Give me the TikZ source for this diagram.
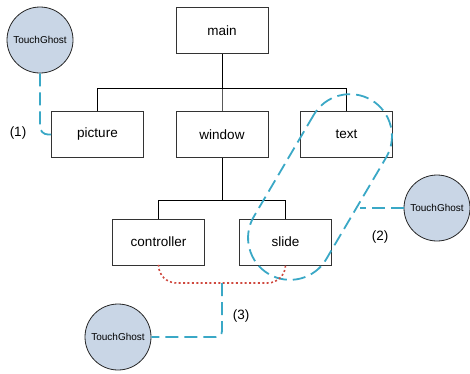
\documentclass[tikz,border=0pt]{standalone}
\usepackage{fontspec}
\setmainfont{Liberation Sans}
\usepackage{tikz}
\usetikzlibrary{trees}

\definecolor{ghostfill}{RGB}{201,214,230}
\definecolor{ghostline}{RGB}{58,168,198}
\definecolor{linkred}{RGB}{207,72,62}
\definecolor{boxline}{RGB}{51,51,51}

\tikzset{
	box/.style={draw=boxline, line width=0.8pt, fill=white, rectangle,
		minimum width=92pt, minimum height=46pt, inner sep=0pt,
		font=\fontsize{13.5}{16}\selectfont},
	ghost/.style={draw=black!85, line width=0.8pt, fill=ghostfill, circle,
		minimum size=66pt, inner sep=0pt, font=\fontsize{10}{12}\selectfont},
	ghostlink/.style={draw=ghostline, line width=1.8pt, dash pattern=on 13pt off 6pt},
	redlink/.style={draw=linkred, line width=1.6pt, dash pattern=on 2pt off 2.4pt},
	tag/.style={font=\fontsize{13.5}{16}\selectfont}
}

\begin{document}
\begin{tikzpicture}[x=1pt, y=1pt,
	level 1/.style={sibling distance=124.5pt, level distance=104pt,
		edge from parent path={(\tikzchildnode.north) -- ++(0,23) -| (\tikzparentnode.south)}},
	level 2/.style={sibling distance=127pt, level distance=107.5pt,
		edge from parent path={(\tikzchildnode.north) -- ++(0,18) -| (\tikzparentnode.south)}},
	edge from parent/.style={draw=black, line width=0.9pt}]
	\useasboundingbox (0,0) rectangle (470,-373);
	\node[box] (main) at (222,-30.5) {main}
	child { node[box] (picture) {picture}}
	child { node[box] (window) {window}
		child { node[box] (controller) {controller}}
		child { node[box] (slide) {slide}}
	}
	child { node[box] (text) {text}};
	
	% ghosts
	\node[ghost] (ghostA) at (40,-40) {TouchGhost};
	\node[ghost] (ghostB) at (437,-208) {TouchGhost};
	\node[ghost] (ghostC) at (118,-337) {TouchGhost};
	
	% (1)
	\draw[ghostlink, rounded corners=8pt] (ghostA.south) |- (picture.west);
	\node[tag] (tagA) at (18,-133) {(1)};
	
	% (2)
	\node[ghostlink, rectangle, rounded corners=42pt, rotate=59.5,
		minimum width=202pt, minimum height=84pt, inner sep=0pt] (group) at (320,-187) {};
	\coordinate (groupend) at (360,-208);
	\draw[ghostlink] (ghostB.west) -- (groupend);
	\node[tag] (tagB) at (380,-237) {(2)};
	
	% (3)
	\coordinate (dotmid) at (222,-283);
	\draw[redlink, rounded corners=18pt] (controller.south) |- (dotmid) -| (slide.south);
	\draw[ghostlink, rounded corners=6pt] (dotmid) |- (ghostC.east);
	\node[tag] (tagC) at (241,-316) {(3)};
\end{tikzpicture}
\end{document}
